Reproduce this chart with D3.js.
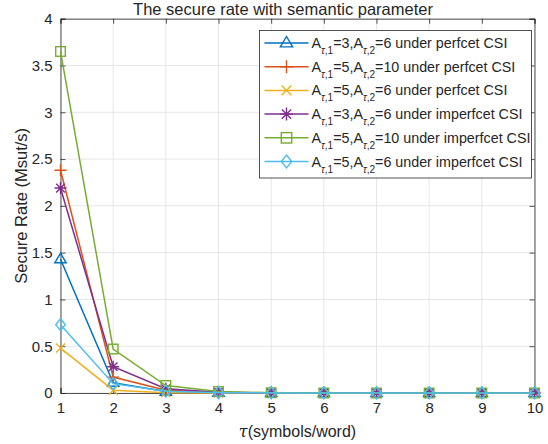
<!DOCTYPE html>
<html>
<head>
<meta charset="utf-8">
<script src="https://cdn.jsdelivr.net/npm/d3@7"></script>
<style>
  body { margin: 0; background: #fff; }
  text { font-family: "Liberation Sans", Arial, sans-serif; fill: #262626; }
</style>
</head>
<body>
<div id="chart"></div>
<script>
// tau values (symbols/word)
const taus = [1, 2, 3, 4, 5, 6, 7, 8, 9, 10];

// secure rate (Msut/s)
const perfect36  = [1.43, 0.11, 0.015, 0.004, 0.001, 0, 0, 0, 0, 0];
const perfect510 = [2.38, 0.17, 0.03, 0.006, 0.001, 0, 0, 0, 0, 0];
const perfect56  = [0.48, 0.03, 0.004, 0.001, 0, 0, 0, 0, 0, 0];
const imperf36   = [2.19, 0.28, 0.045, 0.008, 0.001, 0, 0, 0, 0, 0];
const imperf510  = [3.65, 0.47, 0.08, 0.015, 0.003, 0, 0, 0, 0, 0];
const imperf56   = [0.73, 0.10, 0.02, 0.004, 0.001, 0, 0, 0, 0, 0];

const seriesNames = [
  ["3", "6", "perfcet"],
  ["5", "10", "perfcet"],
  ["5", "6", "perfcet"],
  ["3", "6", "imperfcet"],
  ["5", "10", "imperfcet"],
  ["5", "6", "imperfcet"]
];
const seriesValues = [perfect36, perfect510, perfect56, imperf36, imperf510, imperf56];
const colors = ["#0072BD", "#D95319", "#EDB120", "#7E2F8E", "#77AC30", "#4DBEEE"];
const markers = ["triangle", "plus", "cross", "star", "square", "diamond"];

const yTicks = [0, 0.5, 1, 1.5, 2, 2.5, 3, 3.5, 4];

const width = 548, height = 444;
const plotL = 60.5, plotR = 534.5, plotT = 18.7, plotB = 393;

const svg = d3.select("#chart").append("svg")
  .attr("width", width)
  .attr("height", height);

const x = d3.scaleLinear().domain([1, 10]).range([plotL, plotR]);
const y = d3.scaleLinear().domain([0, 4]).range([plotB, plotT]);

// grid
svg.append("g").selectAll("line")
  .data(taus)
  .enter().append("line")
  .attr("x1", d => x(d)).attr("x2", d => x(d))
  .attr("y1", plotT).attr("y2", plotB)
  .attr("stroke", "#e6e6e6").attr("stroke-width", 1);

svg.append("g").selectAll("line")
  .data(yTicks)
  .enter().append("line")
  .attr("x1", plotL).attr("x2", plotR)
  .attr("y1", d => y(d)).attr("y2", d => y(d))
  .attr("stroke", "#e6e6e6").attr("stroke-width", 1);

// axes
svg.append("g")
  .attr("transform", `translate(0,${plotB})`)
  .call(d3.axisBottom(x).tickValues(taus).tickSize(-5).tickPadding(9).tickFormat(d3.format("d")));
svg.append("g")
  .attr("transform", `translate(${plotL},0)`)
  .call(d3.axisLeft(y).tickValues(yTicks).tickSize(-5).tickPadding(8).tickFormat(d => d));
svg.append("g")
  .attr("transform", `translate(0,${plotT})`)
  .call(d3.axisTop(x).tickValues(taus).tickSize(-5).tickFormat(""));
svg.append("g")
  .attr("transform", `translate(${plotR},0)`)
  .call(d3.axisRight(y).tickValues(yTicks).tickSize(-5).tickFormat(""));

svg.selectAll(".domain").attr("stroke", "#262626").attr("stroke-width", 0.8);
svg.selectAll(".tick line").attr("stroke", "#262626").attr("stroke-width", 0.8);
svg.selectAll(".tick text").attr("font-size", 15).attr("fill", "#262626")
  .style("font-family", "'Liberation Sans', Arial, sans-serif");

// marker shapes
function drawMarker(g, type, color, s) {
  if (type === "triangle") {
    g.append("path").attr("d", `M0,${-s} L${s * 0.95},${s * 0.6} L${-s * 0.95},${s * 0.6} Z`)
      .attr("fill", "none").attr("stroke", color).attr("stroke-width", 1.4);
  } else if (type === "plus") {
    g.append("path").attr("d", `M${-s},0 L${s},0 M0,${-s} L0,${s}`)
      .attr("stroke", color).attr("stroke-width", 1.4);
  } else if (type === "cross") {
    const a = s * 0.75;
    g.append("path").attr("d", `M${-a},${-a} L${a},${a} M${-a},${a} L${a},${-a}`)
      .attr("stroke", color).attr("stroke-width", 1.4);
  } else if (type === "star") {
    const a = s * 0.72;
    g.append("path").attr("d", `M${-s},0 L${s},0 M0,${-s} L0,${s} M${-a},${-a} L${a},${a} M${-a},${a} L${a},${-a}`)
      .attr("stroke", color).attr("stroke-width", 1.4);
  } else if (type === "square") {
    const a = s * 0.8;
    g.append("rect").attr("x", -a).attr("y", -a).attr("width", 2 * a).attr("height", 2 * a)
      .attr("fill", "none").attr("stroke", color).attr("stroke-width", 1.4);
  } else if (type === "diamond") {
    g.append("path").attr("d", `M0,${-s} L${s * 0.8},0 L0,${s} L${-s * 0.8},0 Z`)
      .attr("fill", "none").attr("stroke", color).attr("stroke-width", 1.4);
  }
}

const line = d3.line().x((d, i) => x(taus[i])).y(d => y(d));

seriesValues.forEach((vals, k) => {
  const g = svg.append("g");
  g.append("path").datum(vals)
    .attr("d", line)
    .attr("fill", "none")
    .attr("stroke", colors[k])
    .attr("stroke-width", 1.5);
  vals.forEach((v, i) => {
    const m = g.append("g").attr("transform", `translate(${x(taus[i])},${y(v)})`);
    drawMarker(m, markers[k], colors[k], 6);
  });
});

// title and axis labels
svg.append("text")
  .attr("x", 283).attr("y", 15)
  .attr("text-anchor", "middle")
  .attr("font-size", 16.5)
  .text("The secure rate with semantic parameter");

svg.append("text")
  .attr("transform", `translate(27,${(plotT + plotB) / 2}) rotate(-90)`)
  .attr("text-anchor", "middle")
  .attr("font-size", 16.5)
  .text("Secure Rate (Msut/s)");

const xl = svg.append("text")
  .attr("x", (plotL + plotR) / 2).attr("y", 437)
  .attr("text-anchor", "middle")
  .attr("font-size", 16);
xl.append("tspan").attr("font-style", "italic").style("font-family", "'DejaVu Serif', serif").text("τ");
xl.append("tspan").text("(symbols/word)");

// legend
const lgX = 259.5, lgY = 30.5, lgW = 272, lgH = 147.5, rowH = 23.7;
const legend = svg.append("g");
legend.append("rect")
  .attr("x", lgX).attr("y", lgY).attr("width", lgW).attr("height", lgH)
  .attr("fill", "#fff").attr("stroke", "#262626").attr("stroke-width", 0.8);

seriesNames.forEach((nm, k) => {
  const cy = lgY + 12.5 + k * rowH;
  const row = legend.append("g");
  row.append("line")
    .attr("x1", lgX + 5).attr("x2", lgX + 49)
    .attr("y1", cy).attr("y2", cy)
    .attr("stroke", colors[k]).attr("stroke-width", 1.5);
  const m = row.append("g").attr("transform", `translate(${lgX + 27},${cy})`);
  drawMarker(m, markers[k], colors[k], 6.5);
  const t = row.append("text")
    .attr("x", lgX + 52).attr("y", cy + 5)
    .attr("font-size", 14.3);
  t.append("tspan").text("A");
  t.append("tspan").attr("dy", 6).attr("font-size", 10).attr("font-style", "italic").text("τ");
  t.append("tspan").attr("font-size", 10).text(",1");
  t.append("tspan").attr("dy", -6).text("=" + nm[0] + ",A");
  t.append("tspan").attr("dy", 6).attr("font-size", 10).attr("font-style", "italic").text("τ");
  t.append("tspan").attr("font-size", 10).text(",2");
  t.append("tspan").attr("dy", -6).text("=" + nm[1] + " under " + nm[2] + " CSI");
});
</script>
</body>
</html>
